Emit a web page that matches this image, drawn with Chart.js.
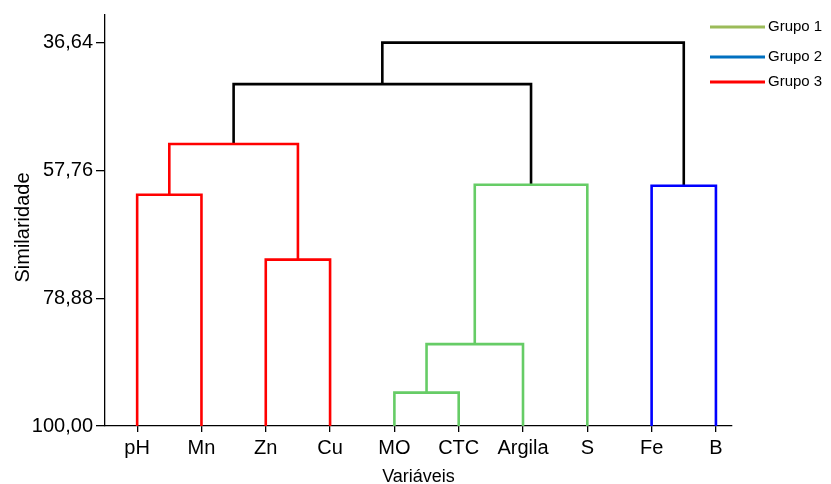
<!DOCTYPE html>
<html><head><meta charset="utf-8">
<script src="https://cdn.jsdelivr.net/npm/chart.js@4"></script>
<style>html,body{margin:0;padding:0;background:#fff}#wrap{width:831px;height:484px;position:relative}</style>
</head><body><div id="wrap"><canvas id="c"></canvas></div>
<script>
// ---- data ----
const categories = ['pH','Mn','Zn','Cu','MO','CTC','Argila','S','Fe','B'];
// linkage: nodes 0..9 are leaves, each merge k creates node 10+k
const mergeA = [4, 10, 2, 0, 8, 11, 13, 16, 17];
const mergeB = [5, 6, 3, 1, 9, 7, 12, 15, 14];
const mergeSimilarity = [94.49, 86.47, 72.50, 61.77, 60.28, 60.12, 53.40, 43.50, 36.64];
const mergeGroup = ['Grupo 1','Grupo 1','Grupo 3','Grupo 3','Grupo 2','Grupo 1','Grupo 3', null, null];
const yTickValues = [36.64, 57.76, 78.88, 100.00];
const legendLabels = ['Grupo 1','Grupo 2','Grupo 3'];
const xTitle = 'Variáveis';
const yTitle = 'Similaridade';

// ---- styles ----
const FONT = '"Liberation Sans", Arial, sans-serif';
const lineColor = {'Grupo 1':'#66CC66','Grupo 2':'#0000FF','Grupo 3':'#FF0000'};
const legendColor = {'Grupo 1':'#9BBB59','Grupo 2':'#0070C0','Grupo 3':'#FF0000'};

const nodeX = categories.map((_, i) => i);
const nodeY = categories.map(() => 100);
const datasets = [];
mergeA.forEach((a, k) => {
  const b = mergeB[k], h = mergeSimilarity[k];
  const g = mergeGroup[k];
  datasets.push({
    label: g || 'link',
    data: [{x: nodeX[a], y: nodeY[a]}, {x: nodeX[a], y: h}, {x: nodeX[b], y: h}, {x: nodeX[b], y: nodeY[b]}],
    borderColor: g ? lineColor[g] : '#000000',
    borderWidth: 2.6,
    showLine: true, pointRadius: 0, tension: 0, fill: false,
    borderJoinStyle: 'miter', borderCapStyle: 'butt',
    order: g ? 1 : 2
  });
  nodeX.push((nodeX[a] + nodeX[b]) / 2);
  nodeY.push(h);
});

const legendY = [27, 57, 82];
const extras = {
  id: 'extras',
  afterDraw(chart) {
    const ctx = chart.ctx, ca = chart.chartArea;
    ctx.save();
    // axis titles
    ctx.fillStyle = '#000';
    ctx.font = '18px ' + FONT;
    ctx.textAlign = 'center';
    ctx.textBaseline = 'alphabetic';
    ctx.fillText(xTitle, (ca.left + ca.right) / 2, ca.bottom + 56);
    ctx.save();
    ctx.font = '20px ' + FONT;
    ctx.translate(29, (ca.top + ca.bottom) / 2 + 7);
    ctx.rotate(-Math.PI / 2);
    ctx.fillText(yTitle, 0, 0);
    ctx.restore();
    // legend
    ctx.font = '15px ' + FONT;
    ctx.textAlign = 'left';
    ctx.textBaseline = 'middle';
    legendLabels.forEach((lab, i) => {
      const y = legendY[i];
      ctx.strokeStyle = legendColor[lab];
      ctx.lineWidth = 3;
      ctx.beginPath(); ctx.moveTo(710, y); ctx.lineTo(765, y); ctx.stroke();
      ctx.fillStyle = '#000';
      ctx.fillText(lab, 768, y);
    });
    ctx.restore();
  }
};

new Chart(document.getElementById('c'), {
  type: 'scatter',
  data: { datasets },
  options: {
    responsive: true, maintainAspectRatio: false, animation: false,
    layout: { padding: { top: 14, right: 99, left: 0, bottom: 0 } },
    plugins: { legend: { display: false }, tooltip: { enabled: false } },
    scales: {
      x: {
        type: 'linear', min: -0.5, max: 9.25,
        afterBuildTicks: s => { s.ticks = categories.map((_, i) => ({ value: i })); },
        afterFit: s => { s.height = 58; },
        ticks: { callback: v => categories[v], color: '#000', font: { family: FONT, size: 20 }, padding: 4, autoSkip: false, maxRotation: 0 },
        grid: { drawOnChartArea: false, drawTicks: true, tickLength: 6, color: '#000', lineWidth: 1.3 },
        border: { color: '#000', width: 1.3 }
      },
      y: {
        type: 'linear', reverse: true, min: 32.07, max: 100,
        afterBuildTicks: s => { s.ticks = yTickValues.map(v => ({ value: v })); },
        afterFit: s => { s.width = 105; },
        ticks: { callback: v => v.toFixed(2).replace('.', ','), color: '#000', font: { family: FONT, size: 20 }, padding: 3 },
        grid: { drawOnChartArea: false, drawTicks: true, tickLength: 9, color: '#000', lineWidth: 1.3 },
        border: { color: '#000', width: 1.3 }
      }
    }
  },
  plugins: [extras]
});
</script></body></html>
